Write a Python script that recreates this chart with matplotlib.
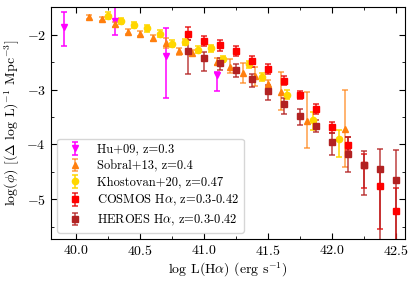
import matplotlib
matplotlib.use('Agg')
import matplotlib.pyplot as plt
from matplotlib.ticker import MultipleLocator

plt.rcParams['font.family'] = 'serif'
plt.rcParams['font.serif'] = ['cmr10']
plt.rcParams['mathtext.fontset'] = 'cm'
plt.rcParams['axes.formatter.use_mathtext'] = True

# Hu+09, z=0.3
hu_x = [39.90, 40.30, 40.70, 41.10]
hu_y = [-1.86, -1.74, -2.39, -2.73]
hu_up = [0.28, 0.40, 0.51, 0.05]
hu_lo = [0.35, 0.27, 0.76, 0.30]

# Sobral+13, z=0.4
sob_x = [40.1, 40.2, 40.3, 40.4, 40.5, 40.6, 40.7, 40.8, 40.9, 41.1,
         41.2, 41.3, 41.4, 41.5, 41.6, 41.8, 42.1]
sob_y = [-1.67, -1.71, -1.81, -1.94, -1.98, -2.06, -2.15, -2.30, -2.33, -2.49,
         -2.59, -2.70, -2.75, -2.89, -3.04, -3.58, -3.72]
sob_up = [0.04, 0.04, 0.05, 0.05, 0.05, 0.05, 0.09, 0.06, 0.06, 0.07,
          0.15, 0.19, 0.17, 0.06, 0.36, 0.53, 0.72]
sob_lo = [0.04, 0.04, 0.05, 0.05, 0.05, 0.05, 0.09, 0.06, 0.06, 0.07,
          0.11, 0.18, 0.19, 0.06, 0.34, 0.49, 0.70]

# Khostovan+20, z=0.47
kho_x = [40.25, 40.35, 40.45, 40.55, 40.65, 40.75, 40.85, 40.95, 41.05, 41.15,
         41.35, 41.45, 41.65, 41.85, 42.05]
kho_y = [-1.65, -1.75, -1.82, -1.88, -1.98, -2.16, -2.13, -2.27, -2.25, -2.44,
         -2.54, -2.77, -3.09, -3.55, -3.91]
kho_up = [0.06, 0.06, 0.06, 0.06, 0.06, 0.06, 0.06, 0.06, 0.06, 0.06,
          0.07, 0.07, 0.08, 0.14, 0.18]
kho_lo = [0.06, 0.06, 0.06, 0.06, 0.06, 0.06, 0.06, 0.06, 0.06, 0.06,
          0.07, 0.07, 0.08, 0.19, 0.32]

# COSMOS Halpha, z=0.3-0.42
cos_x = [40.875, 41.0, 41.125, 41.25, 41.375, 41.5, 41.625, 41.75, 41.875,
         42.0, 42.125, 42.25, 42.375, 42.5]
cos_y = [-1.98, -2.12, -2.18, -2.30, -2.48, -2.62, -2.84, -3.10, -3.36,
         -3.69, -4.01, -4.38, -4.76, -5.21]
cos_up = [0.13, 0.09, 0.09, 0.09, 0.10, 0.09, 0.08, 0.07, 0.09,
          0.10, 0.14, 0.20, 0.30, 0.42]
cos_lo = [0.12, 0.09, 0.11, 0.09, 0.10, 0.09, 0.08, 0.08, 0.09,
          0.10, 0.09, 0.41, 0.79, 0.80]

# HEROES Halpha, z=0.3-0.42
her_x = [40.875, 41.0, 41.125, 41.25, 41.375, 41.5, 41.625, 41.75, 41.875,
         42.0, 42.125, 42.25, 42.375, 42.5]
her_y = [-2.30, -2.43, -2.52, -2.64, -2.81, -3.03, -3.27, -3.48, -3.66,
         -3.95, -4.18, -4.38, -4.45, -4.65]
her_up = [0.20, 0.11, 0.09, 0.11, 0.09, 0.11, 0.12, 0.13, 0.10,
          0.16, 0.31, 0.25, 0.36, 0.55]
her_lo = [0.41, 0.23, 0.12, 0.13, 0.15, 0.16, 0.18, 0.17, 0.11,
          0.24, 0.32, 0.54, 1.50, 1.50]

fig = plt.figure(figsize=(4.16, 2.85), dpi=100)
ax = fig.add_axes([0.122, 0.161, 0.852, 0.813])

kw = dict(ls='none', capsize=2.2, elinewidth=1.1, capthick=1.1)
ax.errorbar(hu_x, hu_y, yerr=[hu_lo, hu_up], fmt='v', color='magenta', ms=4.5,
            label='Hu+09, z=0.3', **kw)
ax.errorbar(sob_x, sob_y, yerr=[sob_lo, sob_up], fmt='^', color='#ff7f0e', ms=4.5,
            ecolor=(1.0, 0.5, 0.05, 0.75), label='Sobral+13, z=0.4', **kw)
ax.errorbar(kho_x, kho_y, yerr=[kho_lo, kho_up], fmt='o', color='gold', ms=4.5,
            label='Khostovan+20, z=0.47', **kw)
ax.errorbar(cos_x, cos_y, yerr=[cos_lo, cos_up], fmt='s', color='red', ms=4.5,
            ecolor=(0.9, 0.0, 0.0, 0.85), label=r'COSMOS H$\alpha$, z=0.3-0.42', **kw)
ax.errorbar(her_x, her_y, yerr=[her_lo, her_up], fmt='s', color='firebrick', ms=4.5,
            ecolor=(0.7, 0.13, 0.13, 0.85), label=r'HEROES H$\alpha$, z=0.3-0.42', **kw)

ax.set_xlim(39.80, 42.57)
ax.set_ylim(-5.73, -1.5)
ax.xaxis.set_major_locator(MultipleLocator(0.5))
ax.xaxis.set_minor_locator(MultipleLocator(0.25))
ax.yaxis.set_major_locator(MultipleLocator(1))
ax.yaxis.set_minor_locator(MultipleLocator(0.5))
ax.tick_params(which='both', direction='in', top=True, right=True, labelsize=10)
ax.tick_params(which='major', length=4.5)
ax.tick_params(which='minor', length=2.2)

ax.set_xlabel(r'log L(H$\alpha$) (erg s$^{-1}$)', fontsize=10, labelpad=2)
ax.set_ylabel(r'$\log(\phi)$ [($\Delta$ log L)$^{-1}$ Mpc$^{-3}$]', fontsize=10, labelpad=3)

ax.legend(loc='lower left', fontsize=9, labelspacing=0.35)

fig.savefig('out.png', dpi=100)
